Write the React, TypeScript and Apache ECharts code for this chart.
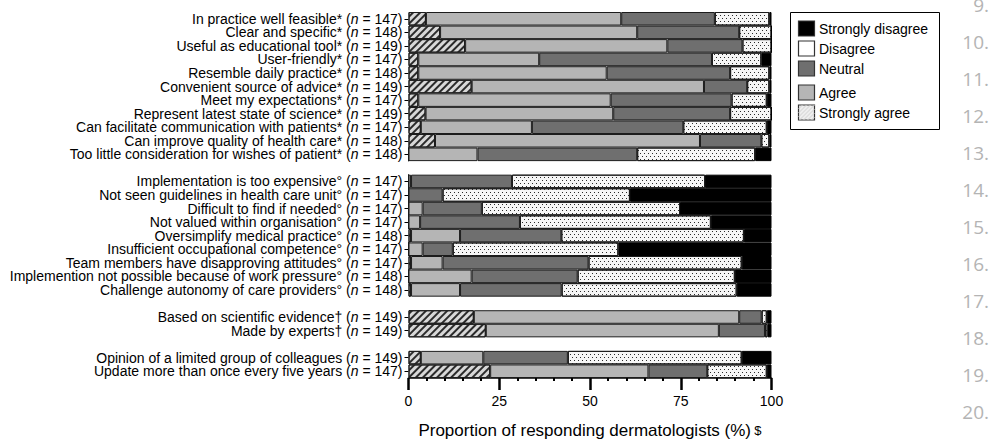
import React, { useEffect, useRef } from 'react';
import * as echarts from 'echarts';

const items = [
  'In practice well feasible*',
  'Clear and specific*',
  'Useful as educational tool*',
  'User-friendly*',
  'Resemble daily practice*',
  'Convenient source of advice*',
  'Meet my expectations*',
  'Represent latest state of science*',
  'Can facilitate communication with patients*',
  'Can improve quality of health care*',
  'Too little consideration for wishes of patient*',
  'Implementation is too expensive°',
  'Not seen guidelines in health care unit°',
  'Difficult to find if needed°',
  'Not valued within organisation°',
  'Oversimplify medical practice°',
  'Insufficient occupational competence°',
  'Team members have disapproving attitudes°',
  'Implemention not possible because of work pressure°',
  'Challenge autonomy of care providers°',
  'Based on scientific evidence†',
  'Made by experts†',
  'Opinion of a limited group of colleagues',
  'Update more than once every five years',
];
const nValues = [147, 148, 149, 147, 148, 149, 147, 149, 147, 148, 148, 147, 147, 147, 147, 148, 147, 147, 148, 148, 149, 149, 149, 147];
const groupSizes = [11, 9, 2, 2];

const stronglyAgree = [4.8, 8.7, 15.6, 2.7, 2.7, 17.4, 2.7, 4.7, 3.4, 7.3, 0, 0, 0, 0, 0, 0.7, 0, 0.7, 0, 0.7, 18.0, 21.3, 3.4, 22.5];
const agree = [53.8, 54.3, 55.7, 33.3, 51.9, 64.0, 53.0, 51.7, 30.6, 73.0, 19.0, 0.7, 0, 3.9, 3.2, 13.5, 3.9, 8.7, 17.4, 13.5, 73.1, 64.2, 17.2, 43.6];
const neutral = [25.8, 28.1, 20.7, 47.6, 34.0, 11.9, 33.3, 32.2, 41.7, 16.9, 44.0, 27.8, 9.4, 16.3, 27.5, 27.9, 8.3, 40.2, 29.2, 28.0, 6.2, 12.7, 23.3, 16.2];
const disagree = [15.0, 8.9, 8.0, 13.6, 10.8, 6.1, 9.7, 11.4, 23.0, 2.2, 32.5, 53.2, 51.6, 54.6, 52.6, 50.3, 45.6, 42.2, 43.3, 48.2, 1.4, 0.7, 47.9, 16.4];
const stronglyDisagree = [0.6, 0, 0, 2.8, 0.6, 0.6, 1.3, 0, 1.3, 0.6, 4.5, 18.3, 39.0, 25.2, 16.7, 7.6, 42.2, 8.2, 10.1, 9.6, 1.3, 1.1, 8.2, 1.3];

const legendNames = ['Strongly disagree', 'Disagree', 'Neutral', 'Agree', 'Strongly agree'];
const lineNumbers = ['9.', '10.', '11.', '12.', '13.', '14.', '15.', '16.', '17.', '18.', '19.', '20.'];

const FONT = '"Liberation Sans", Arial, Helvetica, sans-serif';

export default function App() {
  const ref = useRef<HTMLDivElement>(null);

  useEffect(() => {
    if (!ref.current) return;
    const chart = echarts.init(ref.current, undefined, { renderer: 'svg' });

    // Build categories with empty gap rows between groups
    const catItem: number[] = [];
    let k = 0;
    groupSizes.forEach((g, gi) => {
      for (let j = 0; j < g; j++) catItem.push(k++);
      if (gi < groupSizes.length - 1) catItem.push(-1);
    });
    const categories = catItem.map((ii, ci) => (ii >= 0 ? items[ii] : ' '.repeat(ci + 1)));
    const mk = (arr: number[]) => catItem.map((ii) => (ii >= 0 ? arr[ii] : null));

    const hatch = {
      symbol: 'rect',
      symbolSize: 1,
      color: '#2b2b2b',
      dashArrayX: [1, 0],
      dashArrayY: [1.2, 2.6],
      rotation: -Math.PI / 4,
    };
    const dots = {
      symbol: 'rect',
      symbolSize: 1,
      color: '#2b2b2b',
      dashArrayX: [[1, 3], [0, 2, 1, 1]],
      dashArrayY: [1, 1.4],
      rotation: 0,
    };
    const border = { borderColor: '#1c1c1c', borderWidth: 1 };

    const seriesDefs = [
      { name: 'Strongly agree', data: stronglyAgree, itemStyle: { color: '#d8d8d8', decal: hatch, ...border } },
      { name: 'Agree', data: agree, itemStyle: { color: '#b5b5b5', ...border } },
      { name: 'Neutral', data: neutral, itemStyle: { color: '#6f6f6f', ...border } },
      { name: 'Disagree', data: disagree, itemStyle: { color: '#f6f6f6', decal: dots, ...border } },
      { name: 'Strongly disagree', data: stronglyDisagree, itemStyle: { color: '#000000', borderColor: '#000', borderWidth: 1 } },
    ];

    const swatchFill: Record<string, string> = {
      'Strongly disagree': '#000000',
      Disagree: '#ffffff',
      Neutral: '#6f6f6f',
      Agree: '#b5b5b5',
      'Strongly agree': '#eeeeee',
    };
    const swatchY = [21, 41, 61, 85, 105];

    const graphic: any[] = [
      {
        type: 'rect',
        shape: { x: 790.5, y: 12.5, width: 149, height: 117 },
        style: { fill: '#fff', stroke: '#000', lineWidth: 1 },
        z: 10,
      },
    ];
    legendNames.forEach((nm, i) => {
      graphic.push({
        type: 'rect',
        shape: { x: 798.5, y: swatchY[i], width: 16, height: 15 },
        style: { fill: swatchFill[nm], stroke: '#333', lineWidth: 1.2 },
        z: 11,
      });
      if (nm === 'Strongly agree') {
        for (let d = 4; d < 31; d += 4) {
          const x1 = 798.5 + Math.max(0, d - 15);
          const y1 = swatchY[i] + Math.min(15, d);
          const x2 = 798.5 + Math.min(16, d);
          const y2 = swatchY[i] + Math.max(0, d - 16);
          graphic.push({
            type: 'line',
            shape: { x1, y1, x2, y2 },
            style: { stroke: '#d2d2d2', lineWidth: 1 },
            z: 12,
          });
        }
      }
      graphic.push({
        type: 'text',
        x: 819,
        y: swatchY[i] + 7.5,
        style: { text: nm, fontSize: 14, fontFamily: FONT, fill: '#000', verticalAlign: 'middle', align: 'left' },
        z: 11,
      });
    });
    lineNumbers.forEach((t, i) => {
      graphic.push({
        type: 'text',
        x: 989,
        y: 5 + 37 * i,
        style: { text: t, fontSize: 19, fontFamily: '"Open Sans", sans-serif', fill: '#b4b4b4', align: 'right', verticalAlign: 'middle' },
        z: 11,
      });
    });

    chart.setOption({
      animation: false,
      backgroundColor: '#fff',
      textStyle: { fontFamily: FONT },
      grid: { left: 408.5, right: 221.5, top: 12, bottom: 53, containLabel: false },
      xAxis: {
        type: 'value',
        min: 0,
        max: 100,
        interval: 25,
        axisLine: { show: true, lineStyle: { color: '#000', width: 1.5 } },
        axisTick: { show: true, length: 12, lineStyle: { color: '#000', width: 2.5 } },
        minorTick: { show: true, splitNumber: 5, length: 3, lineStyle: { color: '#000', width: 2 } },
        splitLine: { show: false },
        axisLabel: { fontSize: 14, color: '#000', margin: 16, fontFamily: FONT },
        name: '{t|Proportion of responding dermatologists (%)} {s|$}',
        nameLocation: 'middle',
        nameGap: 44,
        nameTextStyle: {
          rich: {
            t: { fontSize: 17, fontFamily: FONT, color: '#000' },
            s: { fontSize: 13, fontFamily: FONT, color: '#000' },
          },
        },
      },
      yAxis: {
        type: 'category',
        inverse: true,
        data: categories,
        axisLine: { show: false },
        axisTick: {
          show: true,
          length: 4,
          alignWithLabel: true,
          interval: (index: number) => catItem[index] >= 0,
          lineStyle: { color: '#000', width: 1 },
        },
        axisLabel: {
          interval: 0,
          margin: 6,
          formatter: (_v: string, index: number) => {
            const ii = catItem[index];
            if (ii === undefined || ii < 0) return '';
            return `{a|${items[ii]} (}{i|n}{a| = ${nValues[ii]})}`;
          },
          rich: {
            a: { fontSize: 14, lineHeight: 13, fontFamily: FONT, color: '#000' },
            i: { fontSize: 14, lineHeight: 13, fontFamily: FONT, color: '#000', fontStyle: 'italic' },
          },
        },
      },
      series: seriesDefs.map((s) => ({
        type: 'bar',
        name: s.name,
        stack: 'total',
        barCategoryGap: '0%',
        data: mk(s.data),
        itemStyle: s.itemStyle,
      })),
      graphic,
    });

    return () => chart.dispose();
  }, []);

  return <div ref={ref} style={{ position: 'absolute', left: 0, top: 0, width: 993, height: 444 }} />;
}
